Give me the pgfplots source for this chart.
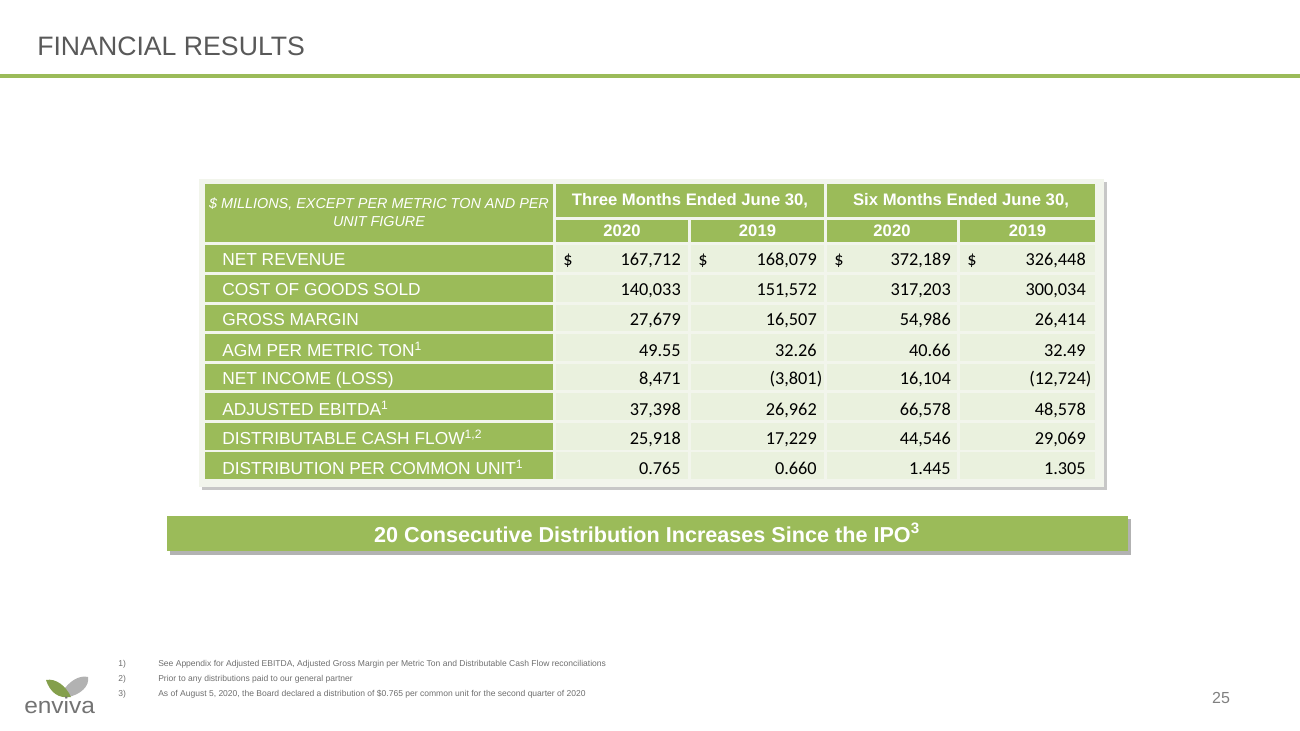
\documentclass[border=0pt]{standalone}
\usepackage{pgfplots}
\pgfplotsset{compat=1.18}
\usepackage{fontspec}
\setmainfont{Liberation Sans}
\newfontfamily\calibri{Carlito}
\newfontfamily\wide[FakeStretch=1.08]{Liberation Sans}
\definecolor{og}{HTML}{9BBB59}
\definecolor{cellbg}{HTML}{EAF1DE}
\definecolor{tabbg}{HTML}{F2F5EC}
\definecolor{titlegray}{HTML}{595959}
\definecolor{footgray}{HTML}{6E6E6E}
\newcommand{\fs}[1]{\fontsize{#1}{#1}\selectfont}
% data row: top, bottom, baseline, label, v1, v2, v3, v4
\newcommand{\drow}[8]{%
  \fill[og] (205,#1) rectangle (553,#2);
  \fill[cellbg] (556,#1) rectangle (688,#2);
  \fill[cellbg] (691,#1) rectangle (824,#2);
  \fill[cellbg] (827,#1) rectangle (957,#2);
  \fill[cellbg] (960,#1) rectangle (1095,#2);
  \node[anchor=base west, inner sep=0pt, text=white, font=\fs{13}] at (222,#3) {#4};
  \node[anchor=base east, inner sep=0pt, font=\calibri\fs{13.7}] at (681,#3) {#5};
  \node[anchor=base east, inner sep=0pt, font=\calibri\fs{13.7}] at (817,#3) {#6};
  \node[anchor=base east, inner sep=0pt, font=\calibri\fs{13.7}] at (951,#3) {#7};
  \node[anchor=base east, inner sep=0pt, font=\calibri\fs{13.7}] at (1086,#3) {#8};
}
\begin{document}
\begin{tikzpicture}
\begin{axis}[width=975pt, height=548.25pt, scale only axis,
  xmin=0, xmax=1300, ymin=0, ymax=731, y dir=reverse,
  axis lines=none, ticks=none, clip=false]
\path[draw=none, fill=none] (0,0) rectangle (1300,731);
% title and rule
\node[anchor=base west, inner sep=0pt, text=titlegray, font=\fs{20}] at (37,56) {FINANCIAL RESULTS};
\fill[og] (0,74) rectangle (1300,78.5);
% table frame
\fill[black!22] (202,182) rectangle (1107,490);
\fill[tabbg] (199,179) rectangle (1104,487);
% header
\fill[og] (205,184) rectangle (553,242);
\fill[og] (556,184) rectangle (824,217);
\fill[og] (827,184) rectangle (1095,217);
\fill[og] (556,220) rectangle (688,242);
\fill[og] (691,220) rectangle (824,242);
\fill[og] (827,220) rectangle (957,242);
\fill[og] (960,220) rectangle (1095,242);
\node[inner sep=0pt, text=white, font=\itshape\fs{10.8}, align=center] at (379,212)
  {\$ MILLIONS, EXCEPT PER METRIC TON AND PER\\[3pt]UNIT FIGURE};
\node[anchor=base, inner sep=0pt, text=white, font=\bfseries\fs{12.5}] at (690,206) {Three Months Ended June 30,};
\node[anchor=base, inner sep=0pt, text=white, font=\bfseries\fs{12.5}] at (961,206) {Six Months Ended June 30,};
\node[anchor=base, inner sep=0pt, text=white, font=\bfseries\fs{12.5}] at (622,237) {2020};
\node[anchor=base, inner sep=0pt, text=white, font=\bfseries\fs{12.5}] at (757.5,237) {2019};
\node[anchor=base, inner sep=0pt, text=white, font=\bfseries\fs{12.5}] at (892,237) {2020};
\node[anchor=base, inner sep=0pt, text=white, font=\bfseries\fs{12.5}] at (1027.5,237) {2019};
% rows
\drow{245}{272}{266}{NET REVENUE}{167,712}{168,079}{372,189}{326,448}
\drow{275}{302}{296}{COST OF GOODS SOLD}{140,033}{151,572}{317,203}{300,034}
\drow{305}{331}{325}{GROSS MARGIN}{27,679}{16,507}{54,986}{26,414}
\drow{334}{361}{356}{AGM PER METRIC TON\textsuperscript{1}}{49.55}{32.26}{40.66}{32.49}
\drow{364}{390}{384}{NET INCOME (LOSS)}{8,471}{(3,801\rlap{)}}{16,104}{(12,724\rlap{)}}
\drow{393}{420}{415}{ADJUSTED EBITDA\textsuperscript{1}}{37,398}{26,962}{66,578}{48,578}
\drow{423}{450}{444}{DISTRIBUTABLE CASH FLOW\textsuperscript{1,2}}{25,918}{17,229}{44,546}{29,069}
\drow{452}{479}{474}{DISTRIBUTION PER COMMON UNIT\textsuperscript{1}}{0.765}{0.660}{1.445}{1.305}
% dollar signs
\node[anchor=base west, inner sep=0pt, font=\calibri\fs{13.7}] at (563,266) {\$};
\node[anchor=base west, inner sep=0pt, font=\calibri\fs{13.7}] at (698,266) {\$};
\node[anchor=base west, inner sep=0pt, font=\calibri\fs{13.7}] at (834,266) {\$};
\node[anchor=base west, inner sep=0pt, font=\calibri\fs{13.7}] at (967,266) {\$};
% banner
\fill[black!30] (170,519) rectangle (1131,554.5);
\fill[og] (167,516) rectangle (1128,551);
\node[anchor=base, inner sep=0pt, text=white, font=\bfseries\fs{16.2}] at (647,542) {20 Consecutive Distribution Increases Since the IPO\textsuperscript{3}};
% footnotes
\node[anchor=base west, inner sep=0pt, text=footgray, font=\fs{6.4}] at (118,666) {1)};
\node[anchor=base west, inner sep=0pt, text=footgray, font=\fs{6.4}] at (158,666) {See Appendix for Adjusted EBITDA, Adjusted Gross Margin per Metric Ton and Distributable Cash Flow reconciliations};
\node[anchor=base west, inner sep=0pt, text=footgray, font=\fs{6.4}] at (118,681) {2)};
\node[anchor=base west, inner sep=0pt, text=footgray, font=\fs{6.4}] at (158,681) {Prior to any distributions paid to our general partner};
\node[anchor=base west, inner sep=0pt, text=footgray, font=\fs{6.4}] at (118,696) {3)};
\node[anchor=base west, inner sep=0pt, text=footgray, font=\fs{6.4}] at (158,696) {As of August 5, 2020, the Board declared a distribution of \$0.765 per common unit for the second quarter of 2020};
% page number
\node[anchor=base, inner sep=0pt, text=black!50, font=\fs{12}] at (1221,703) {25};
% logo
\fill[black!30] (62,692) .. controls (70,680) and (80,675) .. (88,677) .. controls (90,686) and (80,695) .. (68,697) -- cycle;
\fill[og!85!black] (46,680) .. controls (56,678) and (66,686) .. (71,697) .. controls (58,699) and (50,692) .. (46,680) -- cycle;
\node[anchor=base west, inner sep=0pt, text=black!55, font=\wide\fs{17}] at (24,713) {enviva};
\end{axis}
\end{tikzpicture}
\end{document}
